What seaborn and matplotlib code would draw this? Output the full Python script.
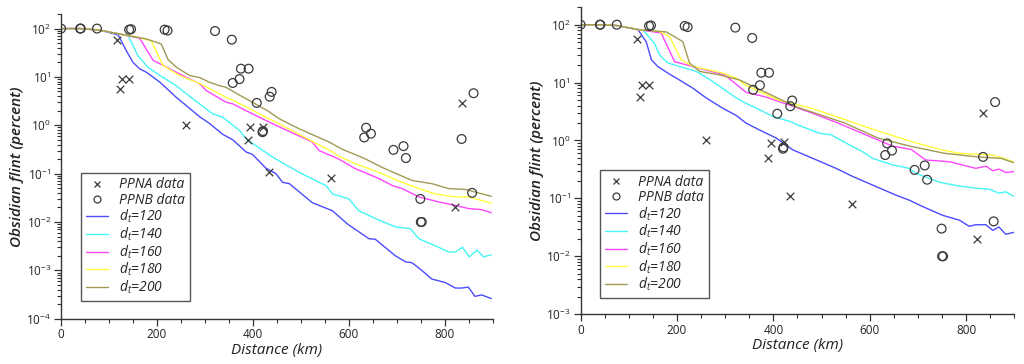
import numpy as np
import pandas as pd
import matplotlib
matplotlib.use("Agg")
import matplotlib.pyplot as plt
import seaborn as sns
from matplotlib.lines import Line2D
from matplotlib.ticker import MultipleLocator, FixedLocator, NullFormatter, LogFormatterSciNotation

# ---------------- data ----------------
# Observed data (same in both panels)
ppna_x = [117, 123, 128, 142, 261, 389, 394, 421, 434, 563, 822, 835]
ppna_y = [57, 5.7, 9.1, 9.1, 1.0, 0.50, 0.91, 0.93, 0.11, 0.080, 0.020, 2.95]

ppnb_x = [0, 40, 41, 75, 142, 146, 216, 222, 321, 356, 358, 372, 375, 391, 408,
          420, 421, 435, 439, 632, 636, 646, 693, 714, 719, 749, 750, 752, 835, 857, 860]
ppnb_y = [100, 100, 100, 100, 95, 97, 95, 91, 89, 59, 7.5, 9.0, 14.8, 14.8, 2.9,
          0.72, 0.76, 3.9, 4.9, 0.56, 0.89, 0.67, 0.31, 0.37, 0.21, 0.030, 0.010, 0.010, 0.52, 0.040, 4.6]

labels_dt = ["120", "140", "160", "180", "200"]

# Panel A model curves
a120_x = [0, 40, 80, 119, 136, 150, 164, 178, 206, 240, 269, 289, 309, 337, 358, 386, 399, 427,
          448, 462, 476, 524, 566, 597, 642, 655, 697, 718, 732, 753, 773, 801, 822, 835, 849, 863, 877, 897]
a120_y = [100, 100, 93, 74, 35, 20, 14.7, 12.5, 7.8, 3.8, 2.2, 1.5, 1.1, 0.65, 0.50, 0.28, 0.25, 0.13,
          0.10, 0.066, 0.062, 0.025, 0.017, 0.0091, 0.0045, 0.0044, 0.0020, 0.0015, 0.00143, 0.00098,
          0.00066, 0.00056, 0.00043, 0.00043, 0.00045, 0.00029, 0.00031, 0.00026]
a140_x = [0, 40, 80, 120, 140, 160, 181, 206, 240, 275, 289, 316, 337, 372, 386, 441, 496, 538, 552,
          566, 600, 621, 649, 656, 697, 728, 746, 787, 808, 822, 837, 851, 867, 881, 897]
a140_y = [100, 100, 93, 78, 72, 27.7, 15.9, 10.7, 6.6, 3.5, 2.77, 1.73, 1.47, 0.78, 0.52, 0.22, 0.107,
          0.066, 0.057, 0.038, 0.030, 0.017, 0.0126, 0.0117, 0.0079, 0.0073, 0.0045, 0.0030, 0.0024,
          0.0024, 0.0030, 0.0019, 0.0026, 0.0019, 0.0021]
a160_x = [0, 40, 80, 120, 164, 192, 220, 261, 289, 303, 344, 358, 386, 427, 448, 524, 538, 579, 614,
          663, 690, 711, 746, 787, 822, 849, 877, 897]
a160_y = [100, 100, 93, 78, 63, 22, 15.9, 9.8, 7.2, 5.2, 3.0, 2.77, 2.0, 1.26, 1.0, 0.45, 0.30, 0.20,
          0.126, 0.079, 0.057, 0.049, 0.033, 0.026, 0.022, 0.019, 0.018, 0.0155]
a180_x = [0, 40, 80, 120, 160, 188, 212, 247, 289, 344, 358, 386, 427, 448, 566, 579, 614, 635, 669,
          711, 746, 780, 822, 849, 897]
a180_y = [100, 100, 93, 78, 66, 56, 17.5, 10.7, 7.3, 3.8, 3.3, 2.4, 1.47, 1.16, 0.28, 0.23, 0.16, 0.135,
          0.10, 0.066, 0.049, 0.038, 0.033, 0.033, 0.0245]
a200_x = [0, 40, 80, 120, 178, 209, 223, 240, 268, 289, 309, 330, 344, 372, 399, 434, 455, 496, 559,
          586, 621, 635, 669, 732, 773, 808, 843, 897]
a200_y = [100, 100, 93, 78, 61, 48, 23, 16, 10.7, 9.7, 7.8, 6.6, 6.1, 4.2, 3.0, 1.9, 1.36, 0.85, 0.45,
          0.32, 0.23, 0.20, 0.135, 0.072, 0.062, 0.049, 0.047, 0.034]

# Panel B model curves
b120_x = [0, 40, 74, 119, 136, 147, 160, 181, 205, 233, 261, 295, 323, 343, 371, 406, 440, 482, 530,
          564, 613, 654, 682, 710, 751, 786, 806, 820, 841, 855, 868, 882, 900]
b120_y = [100, 100, 97, 82, 51, 24.7, 19, 14.6, 11.1, 8.0, 5.4, 3.6, 2.7, 2.0, 1.52, 1.10, 0.69, 0.49,
          0.33, 0.24, 0.16, 0.114, 0.093, 0.072, 0.051, 0.042, 0.033, 0.035, 0.035, 0.028, 0.032, 0.024, 0.026]
b140_x = [0, 40, 74, 130, 153, 164, 181, 205, 240, 274, 299, 323, 343, 371, 399, 437, 447, 495, 520,
          551, 585, 606, 647, 682, 696, 744, 786, 820, 848, 868, 882, 900]
b140_y = [100, 100, 97, 80, 48, 30, 21.8, 19, 15.6, 10.5, 7.5, 5.4, 4.4, 3.4, 2.6, 2.1, 1.9, 1.34, 1.25,
          0.90, 0.64, 0.49, 0.38, 0.33, 0.27, 0.19, 0.163, 0.15, 0.144, 0.123, 0.13, 0.107]
b160_x = [0, 40, 74, 120, 167, 195, 244, 299, 343, 382, 426, 479, 534, 578, 647, 686, 716, 765, 820,
          841, 855, 868, 882, 900]
b160_y = [100, 100, 97, 82, 72, 23, 17.8, 13.6, 6.8, 5.7, 4.3, 3.0, 2.0, 1.4, 0.80, 0.70, 0.46, 0.43,
          0.33, 0.36, 0.30, 0.32, 0.28, 0.29]
b180_x = [0, 40, 74, 120, 160, 184, 209, 233, 295, 323, 341, 410, 479, 548, 610, 686, 748, 786, 854,
          882, 900]
b180_y = [100, 100, 97, 82, 78, 63, 24.7, 19, 14.6, 12, 9.1, 5.0, 3.6, 2.3, 1.52, 0.96, 0.69, 0.60, 0.56,
          0.48, 0.42]
b200_x = [0, 40, 74, 120, 178, 212, 226, 247, 288, 330, 403, 444, 548, 617, 686, 755, 824, 873, 900]
b200_y = [100, 100, 97, 82, 75, 51, 21.8, 15.6, 13.6, 11.1, 5.7, 3.9, 2.0, 1.1, 0.79, 0.60, 0.52, 0.49, 0.41]

panel_a = [(a120_x, a120_y), (a140_x, a140_y), (a160_x, a160_y), (a180_x, a180_y), (a200_x, a200_y)]
panel_b = [(b120_x, b120_y), (b140_x, b140_y), (b160_x, b160_y), (b180_x, b180_y), (b200_x, b200_y)]

# ---------------- style ----------------
sns.set_theme(style="ticks")
plt.rcParams["font.family"] = ["Open Sans", "DejaVu Sans"]
plt.rcParams["mathtext.fontset"] = "custom"
plt.rcParams["mathtext.rm"] = "Open Sans"
plt.rcParams["mathtext.it"] = "Open Sans:italic"

colors = ["#4b4bff", "#45f5f5", "#ff45ff", "#ffff3a", "#a09a55"]
palette = dict(zip(labels_dt, colors))
mark_color = "#3a3a3a"


def build_df(curves):
    frames = []
    for lab, (xs, ys) in zip(labels_dt, curves):
        frames.append(pd.DataFrame({"dist": xs, "val": ys, "dt": lab}))
    return pd.concat(frames, ignore_index=True)


fig = plt.figure(figsize=(10.24, 3.64), dpi=100)
ax1 = fig.add_axes([0.0596, 0.1245, 0.4216, 0.837])
ax2 = fig.add_axes([0.567, 0.137, 0.4236, 0.843])

specs = [(ax1, panel_a, (1e-4, 200), -4, (0.046, 0.058)),
         (ax2, panel_b, (1e-3, 200), -3, (0.045, 0.052))]

for ax, curves, ylim, emin, legpos in specs:
    df = build_df(curves)
    sns.lineplot(data=df, x="dist", y="val", hue="dt", palette=palette, hue_order=labels_dt,
                 estimator=None, sort=True, linewidth=1.0, legend=False, ax=ax)
    sns.scatterplot(x=ppna_x, y=ppna_y, marker="x", color=mark_color, s=30, linewidth=0.9,
                    ax=ax, zorder=5, legend=False)
    sns.scatterplot(x=ppnb_x, y=ppnb_y, marker="o", facecolor="none", edgecolor=mark_color,
                    s=40, linewidth=0.9, ax=ax, zorder=5, legend=False)
    ax.set_yscale("log")
    ax.set_xlim(0, 900)
    ax.set_ylim(*ylim)
    ax.set_xticks([0, 200, 400, 600, 800])
    ax.xaxis.set_minor_locator(MultipleLocator(50))
    majors = [10.0 ** k for k in range(emin, 3)]
    minors = [m * 10.0 ** k for k in range(emin, 2) for m in range(2, 10)] + [200.0]
    ax.yaxis.set_major_locator(FixedLocator(majors))
    ax.yaxis.set_major_formatter(LogFormatterSciNotation())
    ax.yaxis.set_minor_locator(FixedLocator(minors))
    ax.yaxis.set_minor_formatter(NullFormatter())
    sns.despine(ax=ax)
    for s in ["left", "bottom"]:
        ax.spines[s].set_color("#333333")
        ax.spines[s].set_linewidth(1.0)
    ax.tick_params(axis="both", which="major", direction="out", length=5, width=0.9,
                   color="#333333", labelsize=8.5, pad=2, labelcolor="#222222")
    ax.tick_params(axis="both", which="minor", direction="out", length=3, width=0.8, color="#333333")
    ax.set_xlabel("Distance (km)", fontsize=11, style="italic", color="#222222", labelpad=1)
    ax.set_ylabel("Obsidian flint (percent)", fontsize=11, style="italic", fontweight="semibold",
                  color="#222222", labelpad=2)

    handles = [Line2D([], [], linestyle="none", marker="x", color=mark_color, markersize=5,
                      markeredgewidth=0.9),
               Line2D([], [], linestyle="none", marker="o", markerfacecolor="none",
                      markeredgecolor=mark_color, markersize=5, markeredgewidth=0.9)]
    handles += [Line2D([], [], color=c, linewidth=1.0) for c in colors]
    labs = ["PPNA data", "PPNB data"] + [r"$d_t$=" + l for l in labels_dt]
    leg = ax.legend(handles, labs, loc="lower left", bbox_to_anchor=(legpos[0], legpos[1]),
                    frameon=True, fancybox=False, framealpha=1, edgecolor="#555555",
                    prop={"style": "italic", "size": 10}, handlelength=1.6, handletextpad=0.8,
                    labelspacing=0.02, borderpad=0.35, borderaxespad=0)
    leg.get_frame().set_linewidth(1.0)

fig.savefig("out.png", dpi=100)
